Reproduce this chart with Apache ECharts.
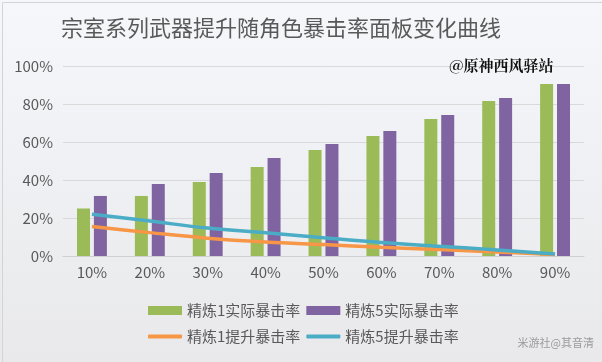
<!DOCTYPE html>
<html><head><meta charset="utf-8">
<script src="https://cdn.jsdelivr.net/npm/echarts@6/dist/echarts.min.js"></script>
<style>html,body{margin:0;padding:0;}#c{width:602px;height:362px;}</style>
</head><body><div id="c"></div>
<script>
const categories = ['10%','20%','30%','40%','50%','60%','70%','80%','90%'];
const r1Actual = [25, 31.6, 39, 46.8, 55.8, 63.2, 72.1, 81.6, 90.5];
const r5Actual = [31.6, 37.9, 43.7, 51.6, 58.9, 65.8, 74.2, 83.2, 90.5];
const r1Boost = [15.5, 12.3, 9.4, 7.4, 6, 4.6, 3.4, 2.1, 0.8];
const r5Boost = [22, 18.4, 14.7, 12.2, 9.6, 7.1, 5.1, 3.2, 1];
const yTicks = [0, 20, 40, 60, 80, 100];

const font = '"Noto Sans CJK SC", "Noto Sans", sans-serif';
const chart = echarts.init(document.getElementById('c'));
chart.setOption({
  animation: false,
  backgroundColor: new echarts.graphic.LinearGradient(0,0,0,1,[{offset:0,color:'#f5f7fb'},{offset:1,color:'#e9e9eb'}]),
  title: {text:'宗室系列武器提升随角色暴击率面板变化曲线', left:56, top:12,
    textStyle:{fontFamily:font, fontSize:22, fontWeight:'normal', color:'#595959'}},
  grid: {left:63, right:18, top:66, bottom:106},
  xAxis: {type:'category', data:categories,
    axisLine:{show:true, lineStyle:{color:'#d0d0d0'}}, axisTick:{show:false},
    axisLabel:{fontFamily:font, fontSize:15, color:'#595959', margin:9}},
  yAxis: {type:'value', min:0, max:100, interval:20,
    axisLabel:{fontFamily:font, fontSize:15, color:'#595959', formatter:v=>v+'%', margin:10},
    splitLine:{lineStyle:{color:'#d9d9d9'}}, axisLine:{show:false}, axisTick:{show:false}},
  legend: [
    {data:['精炼1实际暴击率','精炼5实际暴击率'], left:143, top:298, itemWidth:34, itemHeight:9, itemGap:6,
     icon:'rect', textStyle:{fontFamily:font, fontSize:15, color:'#595959'}},
    {data:['精炼1提升暴击率','精炼5提升暴击率'], left:143, top:324, itemWidth:34, itemHeight:4, itemGap:6,
     icon:'roundRect', textStyle:{fontFamily:font, fontSize:15, color:'#595959'}}
  ],
  series: [
    {name:'精炼1实际暴击率', type:'bar', data:r1Actual, barWidth:13, barGap:'30%', itemStyle:{color:'#9bbb59'}},
    {name:'精炼5实际暴击率', type:'bar', data:r5Actual, barWidth:13, barGap:'30%', itemStyle:{color:'#8064a2'}},
    {name:'精炼1提升暴击率', type:'line', data:r1Boost, smooth:0.4, symbol:'none', lineStyle:{width:3.5, color:'#f79646'}, itemStyle:{color:'#f79646'}},
    {name:'精炼5提升暴击率', type:'line', data:r5Boost, smooth:0.4, symbol:'none', lineStyle:{width:3.5, color:'#4bacc6'}, itemStyle:{color:'#4bacc6'}}
  ],
  graphic: [
    {type:'rect', left:0, top:0, shape:{width:601, height:361}, style:{fill:'none', stroke:'#d4d4d4', lineWidth:1}, z:100},
    {type:'text', left:449, top:58, style:{text:'@原神西风驿站', font:'bold 15px "Noto Serif CJK SC", "Noto Sans CJK SC", serif', fill:'#111'}, z:100},
    {type:'text', right:8, top:337, style:{text:'米游社@其音清', font:'11px "Noto Sans CJK SC", sans-serif', fill:'#9a9a9a'}, z:100}
  ]
});
</script></body></html>
